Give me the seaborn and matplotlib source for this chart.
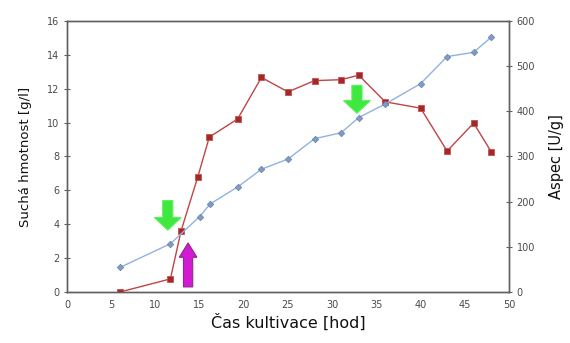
import matplotlib
matplotlib.use("Agg")
import matplotlib.pyplot as plt
from matplotlib.patches import FancyArrow
import seaborn as sns
import pandas as pd

# Dry biomass [g/l] over cultivation time [h]
time_dry = [6, 11.7, 15, 16.2, 19.3, 22, 25, 28, 31, 33, 36, 40, 43, 46, 48]
dry_mass = [1.45, 2.85, 4.45, 5.2, 6.2, 7.25, 7.85, 9.05, 9.4, 10.3, 11.1, 12.3, 13.9, 14.15, 15.05]

# Specific activity [U/g] over cultivation time [h]
time_act = [6, 11.7, 12.9, 14.8, 16.1, 19.3, 22, 25, 28, 31, 33, 36, 40, 43, 46, 48]
activity = [0, 29, 135, 255, 343, 383, 475, 443, 468, 470, 480, 421, 407, 312, 374, 310]

x_ticks = [0, 5, 10, 15, 20, 25, 30, 35, 40, 45, 50]
left_ticks = [0, 2, 4, 6, 8, 10, 12, 14, 16]
right_ticks = [0, 100, 200, 300, 400, 500, 600]

df_dry = pd.DataFrame({"t": time_dry, "v": dry_mass})
df_act = pd.DataFrame({"t": time_act, "v": activity})

sns.set_style("white")
plt.rcParams["font.family"] = ["DejaVu Sans"]

fig = plt.figure(figsize=(5.7, 3.43), dpi=100)
ax = fig.add_axes([0.1175, 0.1487, 0.7755, 0.7901])
ax2 = ax.twinx()

axis_col = "#606060"
tick_col = "#4a4a4a"

sns.lineplot(data=df_dry, x="t", y="v", ax=ax, color="#8fb3e0", lw=1.0,
             marker="D", markersize=3.3, markerfacecolor="#7d9cc8",
             markeredgecolor="#6a7f9f", markeredgewidth=0.5, zorder=3)
sns.lineplot(data=df_act, x="t", y="v", ax=ax2, color="#c04444", lw=1.0,
             marker="s", markersize=4.3, markerfacecolor="#a02a2a",
             markeredgecolor="#cc4c4c", markeredgewidth=0.6, zorder=3)

ax.set_xlim(0, 50)
ax.set_ylim(0, 16)
ax2.set_ylim(0, 600)
ax.set_xticks(x_ticks)
ax.set_yticks(left_ticks)
ax2.set_yticks(right_ticks)

for a in (ax, ax2):
    for s in a.spines.values():
        s.set_color(axis_col)
        s.set_linewidth(1.0)
    a.tick_params(direction="inout", length=5, width=0.8, color=axis_col,
                  labelsize=7, labelcolor=tick_col, pad=3)

ax.set_xlabel("Čas kultivace [hod]", fontsize=11.5, color="#111111", labelpad=3)
ax.set_ylabel("Suchá hmotnost [g/l]", fontsize=9.5, color="#111111", labelpad=11)
ax2.set_ylabel("Aspec [U/g]", fontsize=10.5, color="#111111", labelpad=10)
ax.set_zorder(ax2.get_zorder() + 1)
ax.patch.set_visible(False)

# Process markers: two green feed arrows and one magenta induction arrow
def vertical_arrow(x, y_from, y_to, shaft, head, head_len, face, edge):
    arr = FancyArrow(x, y_from, 0, y_to - y_from, width=shaft, head_width=head,
                     head_length=head_len, length_includes_head=True,
                     facecolor=face, edgecolor=edge, linewidth=0.8, zorder=5)
    ax.add_patch(arr)

vertical_arrow(11.4, 5.4, 3.65, 1.15, 3.05, 0.75, "#3ee83e", "#5ff05f")
vertical_arrow(32.8, 12.2, 10.55, 1.15, 3.05, 0.75, "#3ee83e", "#5ff05f")
vertical_arrow(13.7, 0.3, 2.9, 1.05, 2.0, 0.85, "#d21ad2", "#8a2a8a")

fig.savefig("out.png", dpi=100)
